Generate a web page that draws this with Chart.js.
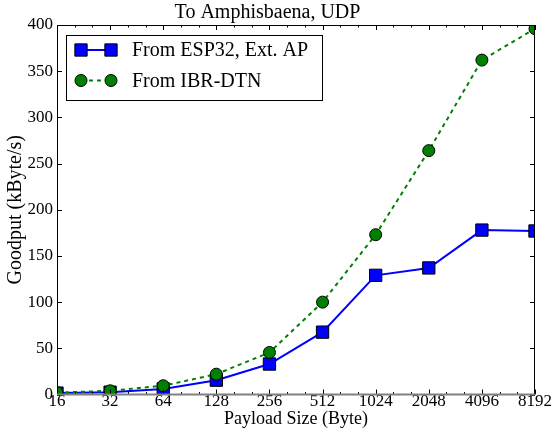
<!DOCTYPE html>
<html>
<head>
<meta charset="utf-8">
<script src="https://cdn.jsdelivr.net/npm/chart.js@4.4.1/dist/chart.umd.min.js"></script>
<style>
  html, body { margin: 0; padding: 0; background: #fff; }
  canvas { display: block; }
</style>
</head>
<body>
<canvas id="grafico" width="554" height="433"></canvas>
<script>
const payloadSizes = [16, 32, 64, 128, 256, 512, 1024, 2048, 4096, 8192];
const esp32Goodput = [1.5, 2.5, 6, 15.5, 33, 67.5, 129, 137, 178, 177];
const ibrDtnGoodput = [2, 4, 9.5, 22, 45.5, 100, 173, 264, 362, 396];
const yTicks = [0, 50, 100, 150, 200, 250, 300, 350, 400];
const serif = '"Liberation Serif", "DejaVu Serif", serif';

Chart.defaults.font.family = serif;
Chart.defaults.color = '#000';

const estiloEsp = { pointStyle: 'rect', radius: 8.7, color: '#0000ff' };
const estiloIbr = { pointStyle: 'circle', radius: 6, color: '#008000' };

// ticks para dentro nos quatro lados, moldura e linha cinza no zero
const molduraPlugin = {
  id: 'moldura',
  afterDatasetsDraw(chart) {
    const { ctx, chartArea: a, scales: { x, y } } = chart;
    ctx.save();
    ctx.strokeStyle = '#000';
    ctx.lineWidth = 1;
    ctx.beginPath();
    payloadSizes.forEach((s, i) => {
      const px = Math.round(x.getPixelForValue(i)) + 0.5;
      ctx.moveTo(px, a.bottom); ctx.lineTo(px, a.bottom - 5);
      ctx.moveTo(px, a.top); ctx.lineTo(px, a.top + 5);
      if (i < payloadSizes.length - 1) {
        [1 / 3, 2 / 3].forEach(k => {
          const mx = Math.round(x.getPixelForValue(i + k)) + 0.5;
          ctx.moveTo(mx, a.bottom); ctx.lineTo(mx, a.bottom - 2.5);
          ctx.moveTo(mx, a.top); ctx.lineTo(mx, a.top + 2.5);
        });
      }
    });
    yTicks.forEach(v => {
      const py = Math.round(y.getPixelForValue(v)) + 0.5;
      ctx.moveTo(a.left, py); ctx.lineTo(a.left + 5, py);
      ctx.moveTo(a.right, py); ctx.lineTo(a.right - 5, py);
    });
    ctx.stroke();

    ctx.beginPath();
    ctx.moveTo(a.left + 0.5, a.bottom);
    ctx.lineTo(a.left + 0.5, a.top + 0.5);
    ctx.lineTo(a.right - 0.5, a.top + 0.5);
    ctx.lineTo(a.right - 0.5, a.bottom);
    ctx.stroke();

    ctx.strokeStyle = '#808080';
    ctx.lineWidth = 2;
    ctx.beginPath();
    ctx.moveTo(a.left, y.getPixelForValue(0));
    ctx.lineTo(a.right, y.getPixelForValue(0));
    ctx.stroke();
    ctx.restore();
  }
};

// legenda no estilo matplotlib (marcador - linha - marcador)
const legendaPlugin = {
  id: 'legendaMpl',
  afterDraw(chart) {
    const { ctx } = chart;
    ctx.save();
    ctx.fillStyle = '#fff';
    ctx.strokeStyle = '#000';
    ctx.lineWidth = 1;
    ctx.fillRect(66.5, 35.5, 256, 65);
    ctx.strokeRect(66.5, 35.5, 256, 65);

    const itens = [
      { texto: chart.data.datasets[0].label, estilo: estiloEsp, dash: [], yc: 50 },
      { texto: chart.data.datasets[1].label, estilo: estiloIbr, dash: [4, 4], yc: 80.5 }
    ];
    itens.forEach(it => {
      ctx.strokeStyle = it.estilo.color;
      ctx.lineWidth = 2;
      ctx.setLineDash(it.dash);
      ctx.beginPath();
      ctx.moveTo(81, it.yc);
      ctx.lineTo(111, it.yc);
      ctx.stroke();
      ctx.setLineDash([]);
      [81, 111].forEach(mx => {
        ctx.fillStyle = it.estilo.color;
        ctx.strokeStyle = '#000';
        ctx.lineWidth = 1;
        Chart.helpers.drawPoint(ctx, { pointStyle: it.estilo.pointStyle, radius: it.estilo.radius, rotation: 0, borderWidth: 1 }, mx, it.yc);
      });
      ctx.fillStyle = '#000';
      ctx.font = '20px ' + serif;
      ctx.textBaseline = 'middle';
      ctx.fillText(it.texto, 132, it.yc + 1);
    });
    ctx.restore();
  }
};

new Chart(document.getElementById('grafico'), {
  type: 'line',
  data: {
    labels: payloadSizes.map(String),
    datasets: [
      {
        label: 'From ESP32, Ext. AP',
        data: esp32Goodput,
        borderColor: estiloEsp.color,
        backgroundColor: estiloEsp.color,
        borderWidth: 2,
        pointStyle: estiloEsp.pointStyle,
        pointRadius: estiloEsp.radius,
        pointBorderColor: '#000',
        pointBorderWidth: 1,
        tension: 0,
        clip: 0,
        order: 2
      },
      {
        label: 'From IBR-DTN',
        data: ibrDtnGoodput,
        borderColor: estiloIbr.color,
        backgroundColor: estiloIbr.color,
        borderWidth: 2,
        borderDash: [4, 4],
        pointStyle: estiloIbr.pointStyle,
        pointRadius: estiloIbr.radius,
        pointBorderColor: '#000',
        pointBorderWidth: 1,
        tension: 0,
        clip: 0,
        order: 1
      }
    ]
  },
  options: {
    responsive: false,
    animation: false,
    devicePixelRatio: 1,
    layout: { padding: { left: 0, right: 19, top: 0, bottom: 0 } },
    plugins: {
      legend: { display: false },
      tooltip: { enabled: false },
      title: {
        display: true,
        text: 'To Amphisbaena, UDP',
        color: '#000',
        font: { family: serif, size: 20, weight: 'normal', lineHeight: 1.1 },
        padding: { top: 2, bottom: 1 }
      }
    },
    scales: {
      x: {
        type: 'category',
        offset: false,
        afterFit: s => { s.height = 38.5; },
        grid: { display: false, drawTicks: false },
        border: { display: false },
        ticks: { autoSkip: false, maxRotation: 0, color: '#000', padding: -3, font: { family: serif, size: 17 } },
        title: {
          display: true,
          text: 'Payload Size (Byte)',
          color: '#000',
          font: { family: serif, size: 18 },
          padding: { top: 0, bottom: 3 }
        }
      },
      y: {
        min: 0,
        max: 400,
        afterBuildTicks: s => { s.ticks = yTicks.map(v => ({ value: v })); },
        afterFit: s => { s.width = 57; },
        grid: { display: false, drawTicks: false },
        border: { display: false },
        ticks: { color: '#000', padding: 4, font: { family: serif, size: 17 } },
        title: {
          display: true,
          text: 'Goodput (kByte/s)',
          color: '#000',
          font: { family: serif, size: 20 },
          padding: { top: 4, bottom: 0 }
        }
      }
    }
  },
  plugins: [molduraPlugin, legendaPlugin]
});
</script>
</body>
</html>
